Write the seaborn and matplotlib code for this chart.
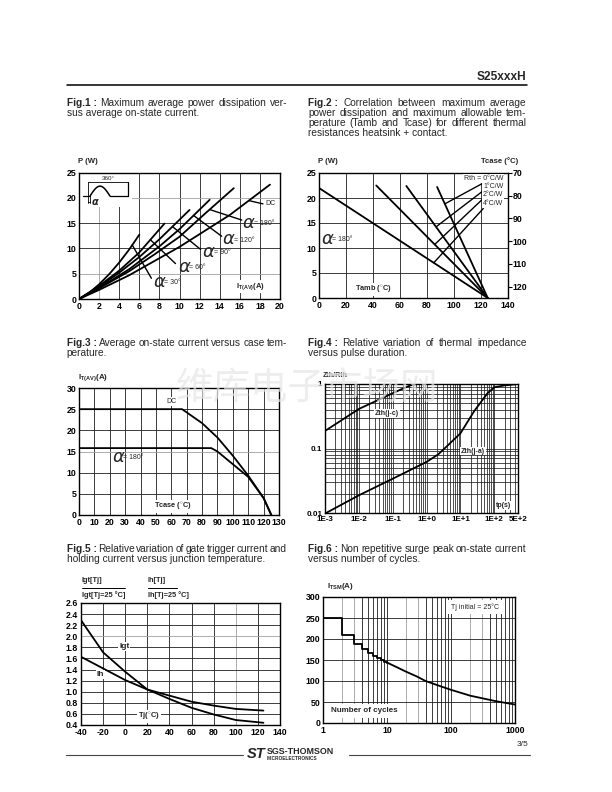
import matplotlib
matplotlib.use("Agg")
import numpy as np
import matplotlib.pyplot as plt
from matplotlib.patches import Rectangle
from matplotlib.lines import Line2D
from matplotlib.transforms import offset_copy
import seaborn as sns

# ---------------- Fig.1 data : P (W) vs IT(AV) (A) ----------------
f1_it_30 = [0, 1, 2, 3, 4, 5, 6.0]
f1_p_30 = [0, 1.2, 2.9, 4.9, 7.2, 9.8, 12.7]
f1_it_60 = [0, 2, 4, 6, 8.5]
f1_p_60 = [0, 2.6, 5.6, 9.2, 14.9]
f1_it_90 = [0, 2, 4, 6, 8, 11.0]
f1_p_90 = [0, 2.4, 5.2, 8.3, 11.8, 17.6]
f1_it_120 = [0, 2, 5, 8, 10, 13.0]
f1_p_120 = [0, 2.2, 5.9, 10.4, 13.8, 19.6]
f1_it_180 = [0, 2, 5, 7.5, 10, 12.5, 15.4]
f1_p_180 = [0, 2.1, 5.5, 8.8, 12.3, 16.8, 21.9]
f1_it_dc = [0, 2, 5, 10, 15, 19.0]
f1_p_dc = [0, 1.8, 4.7, 10.3, 16.6, 22.6]
f1_xticks = [0, 2, 4, 6, 8, 10, 12, 14, 16, 18, 20]
f1_yticks = [0, 5, 10, 15, 20, 25]

# ---------------- Fig.2 data : P vs Tamb for Rth ----------------
f2_rth = ["0", "1", "2", "4"]
f2_tamb_start = [87.5, 64.7, 42.4, 0.0]
f2_p_start = [22.2, 22.4, 22.5, 22.0]
f2_tamb_end = 125
f2_p_end = 0
f2_xticks = [0, 20, 40, 60, 80, 100, 120, 140]
f2_yticks = [0, 5, 10, 15, 20, 25]
f2_tcase_ticks = [70, 80, 90, 100, 110, 120]
f2_tcase_at_p0 = 125
f2_tcase_per_w = 2.2

# ---------------- Fig.3 data : IT(AV) vs Tcase ----------------
f3_t_dc = [0, 67, 80, 90, 100, 110, 120, 125]
f3_i_dc = [25, 25, 21.7, 18.3, 14.0, 9.3, 4.0, 0]
f3_t_180 = [0, 86, 90, 100, 110, 120, 125]
f3_i_180 = [15.8, 15.8, 15.0, 12.0, 9.0, 4.0, 0]
f3_xticks = [0, 10, 20, 30, 40, 50, 60, 70, 80, 90, 100, 110, 120, 130]
f3_yticks = [0, 5, 10, 15, 20, 25, 30]

# ---------------- Fig.4 data : Zth/Rth vs tp ----------------
f4_tp_jc = [1e-3, 1e-2, 1e-1, 0.2, 0.33, 0.5, 500]
f4_z_jc = [0.187, 0.41, 0.72, 0.85, 0.95, 1.0, 1.0]
f4_tp_ja = [1e-3, 1e-2, 1e-1, 1, 2.2, 4.4, 10, 25, 63, 100, 200, 500]
f4_z_ja = [0.0098, 0.0188, 0.034, 0.062, 0.081, 0.114, 0.172, 0.375, 0.72, 0.89, 0.95, 1.0]
f4_xticks = [1e-3, 1e-2, 1e-1, 1, 10, 100, 500]
f4_xlabels = ["1E-3", "1E-2", "1E-1", "1E+0", "1E+1", "1E+2", "5E+2"]
f4_yticks = [0.01, 0.1, 1]
f4_ylabels = ["0.01", "0.1", "1"]

# ---------------- Fig.5 data : Igt, Ih relative vs Tj ----------------
f5_tj = [-40, -20, 0, 20, 40, 60, 80, 100, 125]
f5_igt = [2.29, 1.71, 1.36, 1.04, 0.87, 0.71, 0.59, 0.49, 0.44]
f5_ih = [1.63, 1.42, 1.21, 1.04, 0.93, 0.82, 0.75, 0.69, 0.66]
f5_xticks = [-40, -20, 0, 20, 40, 60, 80, 100, 120, 140]
f5_yticks = [0.4, 0.6, 0.8, 1.0, 1.2, 1.4, 1.6, 1.8, 2.0, 2.2, 2.4, 2.6]

# ---------------- Fig.6 data : ITSM vs number of cycles ----------------
f6_n_step = [1, 2, 3, 4, 5, 6, 7, 8, 9, 10]
f6_i_step = [250, 209, 189, 176, 167, 160, 154, 149, 145, 143]
f6_n_curve = [10, 20, 30, 40, 70, 100, 200, 500, 1000]
f6_i_curve = [144, 122, 110, 100, 87, 79, 65, 52, 44]
f6_xticks = [1, 10, 100, 1000]
f6_yticks = [0, 50, 100, 150, 200, 250, 300]

# ---------------- style ----------------
sns.set_theme(style="white")
plt.rcParams["font.family"] = ["Liberation Sans", "DejaVu Sans"]
plt.rcParams["mathtext.fontset"] = "custom"
plt.rcParams["mathtext.rm"] = "Liberation Sans"
plt.rcParams["mathtext.it"] = "Liberation Sans:italic"
plt.rcParams["mathtext.bf"] = "Liberation Sans:bold"

W, H = 612, 792
fig = plt.figure(figsize=(W / 100, H / 100), dpi=100)
fig.patch.set_facecolor("white")
LW = 1.3
GRID = "#1e1e1e"
GRAY = "#a0a0a0"
TICK_FS = 6.3
WB = dict(facecolor="white", edgecolor="none", pad=0.6)


def fx(x):
    return x / W


def fy(y):
    return 1 - y / H


def ftext(x, y, s, **kw):
    kw.setdefault("va", "center")
    kw.setdefault("ha", "left")
    return fig.text(fx(x), fy(y), s, **kw)


def add_ax(l, r, t, b):
    ax = fig.add_axes([fx(l), fy(b), (r - l) / W, (b - t) / H])
    for s in ax.spines.values():
        s.set_color("black")
        s.set_linewidth(1.0)
        s.set_visible(True)
    ax.set_facecolor("white")
    return ax


def grid(ax, xs, ys, gray_x=(), gray_y=(), lw=0.6):
    for x in xs:
        ax.axvline(x, color=GRAY if x in gray_x else GRID, lw=lw, zorder=0.6)
    for y in ys:
        ax.axhline(y, color=GRAY if y in gray_y else GRID, lw=lw, zorder=0.6)


def ticks(ax, xt, xl, yt, yl, fs=TICK_FS):
    ax.set_xticks(xt)
    ax.set_xticklabels(xl, fontweight="bold", fontsize=fs)
    ax.set_yticks(yt)
    ax.set_yticklabels(yl, fontweight="bold", fontsize=fs)
    ax.tick_params(axis="both", length=0, pad=2, colors="black")
    ax.set_xlabel("")
    ax.set_ylabel("")


def curve(ax, x, y, **kw):
    sns.lineplot(x=x, y=y, ax=ax, color="black", lw=LW, estimator=None,
                 sort=False, legend=False, **kw)


def alpha_label(ax, x, y, txt, big=13, small=5, dx=11):
    ax.text(x, y, "α", fontsize=big, style="italic", family="DejaVu Sans",
            va="center", ha="left", zorder=5)
    ax.text(x, y, "= " + txt, fontsize=small, va="center", ha="left", zorder=5,
            transform=offset_copy(ax.transData, fig=fig, x=dx, y=-1, units="dots"))


def leader(ax, start, xc, xs, ys):
    yc = float(np.interp(xc, xs, ys))
    ax.annotate("", xy=(xc, yc), xytext=start,
                arrowprops=dict(arrowstyle="-", color="black", lw=1.0,
                                shrinkA=0, shrinkB=0), zorder=4)


renderer = fig.canvas.get_renderer()


def text_width(s, **kw):
    t = fig.text(0, 0, s, **kw)
    w = t.get_window_extent(renderer=renderer).width
    t.remove()
    return w


def justified(x0, x1, y, words, prefix=None, fs=7.3):
    items = []
    if prefix:
        items.append((prefix, "bold"))
    items += [(w, "normal") for w in words.split(" ")]
    widths = [text_width(s, fontsize=fs, fontweight=wt) for s, wt in items]
    gap = (x1 - x0 - sum(widths)) / (len(items) - 1)
    x = x0
    for (s, wt), w in zip(items, widths):
        ftext(x, y, s, fontsize=fs, fontweight=wt)
        x += w + gap


def left_line(x0, y, words, prefix=None, fs=7.3):
    x = x0
    if prefix:
        ftext(x, y, prefix, fontsize=fs, fontweight="bold")
        x += text_width(prefix + " ", fontsize=fs, fontweight="bold")
    ftext(x, y, words, fontsize=fs)


# ---------------- page header / captions ----------------
ftext(526, 77, "S25xxxH", fontsize=8.6, fontweight="bold", ha="right")
fig.add_artist(Line2D([fx(66.5), fx(527)], [fy(84.5), fy(84.5)], color="black", lw=1.1))

LX, LR, RX, RR = 66.7, 287, 308.3, 526.5
justified(LX, LR, 102.7, "Maximum average power dissipation ver-", prefix="Fig.1 :")
left_line(LX, 112.7, "sus average on-state current.")
justified(RX, RR, 102.7, "Correlation between maximum average", prefix="Fig.2 :")
justified(RX, RR, 112.7, "power dissipation and maximum allowable tem-")
justified(RX, RR, 122.7, "perature (Tamb and Tcase) for different thermal")
left_line(RX, 132.7, "resistances heatsink + contact.")
justified(LX, LR, 342.5, "Average on-state current versus case tem-", prefix="Fig.3 :")
left_line(LX, 352.5, "perature.")
justified(RX, RR, 342.5, "Relative variation of thermal impedance", prefix="Fig.4 :")
left_line(RX, 352.5, "versus pulse duration.")
justified(LX, LR, 549.5, "Relative variation of gate trigger current and", prefix="Fig.5 :")
left_line(LX, 559.5, "holding current versus junction temperature.")
justified(RX, RR, 549.5, "Non repetitive surge peak on-state current", prefix="Fig.6 :")
left_line(RX, 559.5, "versus number of cycles.")

# ---------------- Fig.1 ----------------
ax1 = add_ax(79, 280, 172.5, 299)
grid(ax1, f1_xticks[1:-1], f1_yticks[1:-1], gray_x=(2,), gray_y=(5, 20))
ax1.add_patch(Rectangle((0.05, 18.2), 5.2, 6.75, facecolor="white", edgecolor="none", zorder=1))
series1 = [(f1_it_30, f1_p_30), (f1_it_60, f1_p_60), (f1_it_90, f1_p_90),
           (f1_it_120, f1_p_120), (f1_it_180, f1_p_180), (f1_it_dc, f1_p_dc)]
for xs, ys in series1:
    curve(ax1, xs, ys)
ax1.set_xlim(0, 20)
ax1.set_ylim(0, 25)
ticks(ax1, f1_xticks, [str(v) for v in f1_xticks], f1_yticks, [str(v) for v in f1_yticks])
alpha_label(ax1, 16.3, 15.1, "180°")
alpha_label(ax1, 14.3, 11.8, "120°")
alpha_label(ax1, 12.3, 9.3, "90°")
alpha_label(ax1, 9.9, 6.4, "60°")
alpha_label(ax1, 7.4, 3.4, "30°")
leader(ax1, (16.2, 15.6), 13.0, f1_it_180, f1_p_180)
leader(ax1, (14.2, 12.4), 11.4, f1_it_120, f1_p_120)
leader(ax1, (12.1, 9.8), 9.3, f1_it_90, f1_p_90)
leader(ax1, (9.6, 7.0), 7.1, f1_it_60, f1_p_60)
leader(ax1, (7.2, 4.1), 5.3, f1_it_30, f1_p_30)
ax1.text(18.5, 18.8, "DC", fontsize=5, va="center", ha="left", bbox=WB, zorder=5)
leader(ax1, (18.3, 18.8), 16.9, f1_it_dc, f1_p_dc)
ax1.text(15.6, 2.5, r"I$_{\mathbf{T(AV)}}$(A)", fontsize=5.5, fontweight="bold",
         va="center", ha="left", bbox=WB, zorder=5)
# waveform inset
wx = np.linspace(1.1, 3.08, 40)
wy = 20.35 + 1.95 * np.sin(np.pi * (wx - 1.1) / 1.98)
ax1.plot([0.43, 1.1], [20.35, 20.35], color="black", lw=0.9, zorder=3)
ax1.plot(wx, wy, color="black", lw=1.1, zorder=3)
ax1.plot([3.08, 4.9, 4.9], [20.35, 20.35, 23.2], color="black", lw=0.9, zorder=3)
ax1.plot([0.93, 0.93], [19.0, 23.2], color="black", lw=0.6, zorder=3)
ax1.plot([0.93, 4.9], [23.2, 23.2], color="black", lw=0.6, zorder=3)
ax1.text(2.9, 23.9, "360°", fontsize=4.5, ha="center", va="center", zorder=4)
ax1.plot([0.93, 1.1], [19.2, 19.2], color="black", lw=0.6, zorder=3)
ax1.plot([1.1, 1.1], [19.0, 20.35], color="black", lw=0.6, zorder=3)
ax1.text(1.25, 19.2, "α", fontsize=7, style="italic", family="DejaVu Sans",
         fontweight="bold", ha="left", va="center", zorder=4)
ftext(78, 161.5, "P (W)", fontsize=5.6, fontweight="bold")

# ---------------- Fig.2 ----------------
ax2 = add_ax(319, 508, 173, 298)
grid(ax2, f2_xticks[1:-1], f2_yticks[1:-1])
for ts, ps in zip(f2_tamb_start, f2_p_start):
    curve(ax2, [ts, f2_tamb_end], [ps, f2_p_end])
ax2.set_xlim(0, 140)
ax2.set_ylim(0, 25)
ticks(ax2, f2_xticks, [str(v) for v in f2_xticks], f2_yticks, [str(v) for v in f2_yticks])
ax2r = ax2.twinx()
ax2r.set_ylim(0, 25)
ax2r.set_yticks([(f2_tcase_at_p0 - t) / f2_tcase_per_w for t in f2_tcase_ticks])
ax2r.set_yticklabels([str(t) for t in f2_tcase_ticks], fontweight="bold", fontsize=TICK_FS)
ax2r.tick_params(axis="y", right=True, length=3, width=0.8, pad=0.5, direction="out", colors="black")
ax2r.grid(False)
for s in ax2r.spines.values():
    s.set_visible(False)
rth_y = [23.9, 22.2, 20.6, 18.9]
rth_txt = ["Rth = 0°C/W", "1°C/W", "2°C/W", "4°C/W"]
lead_start = [(121.7, 23.0), (120.9, 21.3), (120.9, 19.7), (121.7, 17.9)]
lead_x = [93.2, 86.7, 85.7, 85.0]
for yy, tt in zip(rth_y, rth_txt):
    ax2.text(136.5, yy, tt, fontsize=5, ha="right", va="center", bbox=WB, zorder=5)
for st, xc, ts, ps in zip(lead_start, lead_x, f2_tamb_start, f2_p_start):
    leader(ax2, st, xc, [ts, f2_tamb_end], [ps, f2_p_end])
alpha_label(ax2, 1.5, 11.9, "180°")
ax2.text(26.5, 1.7, "Tamb ($\\mathbf{^{\\circ}}$C)", fontsize=5.3, fontweight="bold",
         ha="left", va="center", bbox=WB, zorder=5)
ftext(318, 161.5, "P (W)", fontsize=5.6, fontweight="bold")
ftext(518, 161.5, "Tcase (°C)", fontsize=5.6, fontweight="bold", ha="right")

# ---------------- Fig.3 ----------------
ax3 = add_ax(79, 279, 388, 515)
grid(ax3, f3_xticks[1:-1], f3_yticks[1:-1], gray_y=(15,))
curve(ax3, f3_t_dc, f3_i_dc)
curve(ax3, f3_t_180, f3_i_180)
ax3.set_xlim(0, 130)
ax3.set_ylim(0, 30)
ticks(ax3, f3_xticks, [str(v) for v in f3_xticks], f3_yticks, [str(v) for v in f3_yticks])
ax3.text(60, 26.8, "DC", fontsize=5, ha="center", va="center", bbox=WB, zorder=5)
alpha_label(ax3, 21.5, 13.8, "180°")
ax3.text(49, 2.0, "Tcase ($\\mathbf{^{\\circ}}$C)", fontsize=5.3, fontweight="bold",
         ha="left", va="center", bbox=WB, zorder=5)
ftext(78, 378, r"I$_{\mathbf{T(AV)}}$(A)", fontsize=5.8, fontweight="bold")

# ---------------- Fig.4 ----------------
ax4 = add_ax(325, 518, 384, 513)
ax4.set_xscale("log")
ax4.set_yscale("log")
xg = [m * 10.0 ** e for e in range(-3, 3) for m in range(1, 10) if m * 10.0 ** e < 500]
yg = [m * 10.0 ** e for e in range(-2, 0) for m in range(1, 10)]
grid(ax4, xg[1:], yg[1:], lw=0.55)
curve(ax4, f4_tp_jc, f4_z_jc)
curve(ax4, f4_tp_ja, f4_z_ja)
ax4.set_xlim(1e-3, 500)
ax4.set_ylim(0.01, 1)
ticks(ax4, f4_xticks, f4_xlabels, f4_yticks, f4_ylabels, fs=5.8)
ax4.minorticks_off()
ax4.text(0.030, 0.35, "Zth(j-c)", fontsize=5, fontweight="bold", ha="left", va="center", bbox=WB, zorder=5)
ax4.text(10.5, 0.091, "Zth(j-a)", fontsize=5, fontweight="bold", ha="left", va="center", bbox=WB, zorder=5)
ax4.text(110, 0.0132, "tp(s)", fontsize=5, fontweight="bold", ha="left", va="center", bbox=WB, zorder=5)
ftext(323, 375.5, "Zth/Rth", fontsize=5, fontweight="bold")

# ---------------- Fig.5 ----------------
ax5 = add_ax(81, 280, 603, 725)
grid(ax5, f5_xticks[1:-1], f5_yticks[1:-1], gray_x=(100,), gray_y=(2.0,))
curve(ax5, f5_tj, f5_igt)
curve(ax5, f5_tj, f5_ih)
ax5.set_xlim(-40, 140)
ax5.set_ylim(0.4, 2.6)
ticks(ax5, f5_xticks, [str(v) for v in f5_xticks], f5_yticks, ["%.1f" % v for v in f5_yticks])
ax5.text(-5.5, 1.82, "Igt", fontsize=6, fontweight="bold", ha="left", va="center", bbox=WB, zorder=5)
ax5.text(-26, 1.31, "Ih", fontsize=6, fontweight="bold", ha="left", va="center", bbox=WB, zorder=5)
ax5.text(11.5, 0.55, "Tj($\\mathbf{^{\\circ}}$C)", fontsize=5.5, fontweight="bold", ha="left",
         va="center", bbox=WB, zorder=5)
ftext(81.7, 581, "Igt[Tj]", fontsize=5.3, fontweight="bold")
fig.add_artist(Line2D([fx(81.7), fx(125)], [fy(588.3), fy(588.3)], color="black", lw=0.7))
ftext(81.7, 595, "Igt[Tj=25 °C]", fontsize=5.3, fontweight="bold")
ftext(148, 581, "Ih[Tj]", fontsize=5.3, fontweight="bold")
fig.add_artist(Line2D([fx(148), fx(177)], [fy(588.3), fy(588.3)], color="black", lw=0.7))
ftext(148, 595, "Ih[Tj=25 °C]", fontsize=5.3, fontweight="bold")

# ---------------- Fig.6 ----------------
ax6 = add_ax(323, 515, 597, 723)
ax6.set_xscale("log")
x6 = [m * 10.0 ** e for e in range(0, 3) for m in range(2, 10)]
x6 += [10, 100]
gray6 = [m * 10.0 ** e for e in range(0, 3) for m in (2, 3)]
grid(ax6, x6, f6_yticks[1:-1], gray_x=gray6)
curve(ax6, f6_n_step, f6_i_step, drawstyle="steps-post")
curve(ax6, f6_n_curve, f6_i_curve)
ax6.set_xlim(1, 1000)
ax6.set_ylim(0, 300)
ticks(ax6, f6_xticks, [str(v) for v in f6_xticks], f6_yticks, [str(v) for v in f6_yticks])
ax6.minorticks_off()
ax6.text(1.35, 29, "Number of cycles", fontsize=5.8, fontweight="bold", ha="left",
         va="center", bbox=dict(facecolor="white", edgecolor="none", pad=2.5), zorder=5)
ax6.text(100, 276, "Tj initial = 25°C", fontsize=5, ha="left", va="center",
         bbox=dict(facecolor="white", edgecolor="none", pad=2.0), zorder=5)
ftext(327, 586.5, r"I$_{\mathbf{TSM}}$(A)", fontsize=5.8, fontweight="bold")

# ---------------- footer ----------------
fig.add_artist(Line2D([fx(66), fx(243)], [fy(755), fy(755)], color="#444444", lw=0.8))
fig.add_artist(Line2D([fx(349), fx(530)], [fy(755), fy(755)], color="#444444", lw=0.8))
ftext(265, 753.5, "ST", fontsize=10.5, fontweight="bold", style="italic", ha="right")
ftext(267, 751.5, "SGS-THOMSON", fontsize=6.4, fontweight="bold")
ftext(267, 758.5, "MICROELECTRONICS", fontsize=3.4, fontweight="bold")
ftext(528, 744, "3/5", fontsize=6, ha="right")

# watermark
ftext(176, 389, "维库电子市场网", fontsize=27, color="#e6e6e6", alpha=0.7,
      family=["Noto Sans CJK SC", "DejaVu Sans"], zorder=20)

fig.savefig("out.png", dpi=100, facecolor="white")
